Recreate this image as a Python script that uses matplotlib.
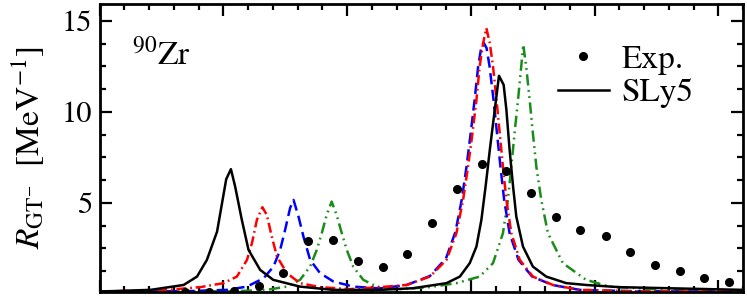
import matplotlib
matplotlib.use("Agg")
import matplotlib.pyplot as plt
from matplotlib.ticker import MultipleLocator, NullFormatter

plt.rcParams['font.family'] = ['STIXGeneral', 'DejaVu Serif']
plt.rcParams['mathtext.fontset'] = 'stix'

# ---- data (energy in MeV, strength in MeV^-1) ----
exp_x = [3.44, 4.44, 5.44, 6.43, 7.42, 8.44, 9.43, 10.43, 11.44, 12.43, 13.44,
         14.44, 15.45, 16.43, 17.43, 18.44, 19.42, 20.45, 21.44, 22.45, 23.44,
         24.43, 25.43]
exp_y = [0.13, 0.13, 0.18, 0.44, 1.17, 2.93, 2.97, 1.82, 1.47, 2.20, 3.92,
         5.77, 7.14, 6.77, 5.53, 4.25, 3.52, 3.19, 2.29, 1.59, 1.23, 0.86, 0.68]

sly5_x = [0, 2.06, 3.40, 3.94, 4.34, 4.75, 5.12, 5.31, 5.48, 5.75, 6.02, 6.49,
          7.02, 8.10, 9.44, 11.33, 12.67, 14.02, 14.56, 14.96, 15.23, 15.43,
          15.60, 15.77, 15.97, 16.14, 16.33, 16.44, 16.57, 16.71, 16.84, 17.11,
          17.51, 18.05, 18.86, 19.66, 21.0, 26.0]
sly5_y = [0.13, 0.22, 0.49, 0.95, 1.87, 3.42, 6.30, 6.85, 5.90, 4.07, 2.42, 1.32,
          0.77, 0.40, 0.22, 0.22, 0.31, 0.59, 0.95, 1.69, 2.60, 4.07,
          5.90, 7.91, 10.11, 11.98, 11.48, 10.11, 7.91, 5.90, 4.25, 2.60,
          1.50, 0.95, 0.59, 0.49, 0.37, 0.22]

red_x = [0, 2.73, 4.07, 5.01, 5.55, 5.96, 6.16, 6.36, 6.58, 6.76, 6.96, 7.17,
         7.57, 8.10, 8.91, 10.12, 11.33, 12.41, 13.35, 14.02, 14.42, 14.69,
         14.89, 15.07, 15.23, 15.36, 15.50, 15.63, 15.77, 15.90, 16.04, 16.17,
         16.30, 16.44, 16.64, 16.98, 17.51, 18.32, 19.4, 21.5, 26.0]
red_y = [0.12, 0.22, 0.37, 0.59, 0.95, 1.87, 2.79, 4.07, 4.76, 4.34, 3.15, 2.05,
         1.14, 0.59, 0.37, 0.26, 0.37, 0.49, 0.95, 1.87, 3.33, 5.16,
         6.99, 8.83, 10.66, 12.49, 13.77, 14.6, 13.77, 12.49, 10.66, 8.83,
         6.99, 5.16, 3.33, 1.87, 0.95, 0.49, 0.22, 0.15, 0.12]

blue_x = [0, 3.5, 5.15, 5.96, 6.63, 7.03, 7.30, 7.50, 7.70, 7.84, 8.04, 8.24,
          8.51, 8.91, 9.45, 10.25, 11.33, 12.41, 13.35, 14.0, 14.38, 14.64,
          14.83, 15.0, 15.16, 15.30, 15.42, 15.52, 15.64, 15.76, 15.92, 16.06,
          16.20, 16.35, 16.57, 16.93, 17.48, 18.3, 19.4, 21.5, 26.0]
blue_y = [0.12, 0.15, 0.22, 0.40, 0.86, 1.50, 2.42, 3.52, 4.71, 5.16, 4.25, 3.15,
          1.87, 1.14, 0.68, 0.40, 0.30, 0.49, 0.98, 1.95, 3.4, 5.2,
          7.0, 8.85, 10.7, 12.5, 13.5, 13.8, 13.5, 12.5, 10.66, 8.83,
          6.99, 5.16, 3.33, 1.87, 0.95, 0.49, 0.22, 0.15, 0.12]

green_x = [0, 5.5, 6.76, 7.57, 8.10, 8.51, 8.78, 8.98, 9.18, 9.38, 9.58, 9.79,
           9.99, 10.25, 10.66, 11.2, 12.0, 13.35, 14.42, 15.36, 15.9, 16.30,
           16.5, 16.64, 16.77, 16.91, 17.04, 17.12, 17.24, 17.38, 17.51, 17.65,
           17.85, 18.12, 18.72, 19.66, 20.6, 22.34, 26.0]
green_y = [0.12, 0.15, 0.22, 0.40, 0.77, 1.50, 2.42, 3.33, 4.34, 5.07, 4.34, 3.33,
           2.42, 1.50, 0.77, 0.40, 0.25, 0.37, 0.59, 0.95, 1.69, 3.33,
           5.16, 6.99, 8.83, 10.66, 12.49, 13.7, 12.49, 10.66, 8.83, 6.99,
           5.16, 3.33, 1.69, 0.77, 0.40, 0.26, 0.20]

# ---- figure ----
W, H = 747, 297
fig = plt.figure(figsize=(W / 100, H / 100), dpi=100)
ax = fig.add_axes([99.5 / W, 5.3 / H, 643.5 / W, 288.2 / H])

lw = 1.8
ax.plot(green_x, green_y, color='#1a8c1a', lw=lw, dashes=(4.5, 1.8, 0.7, 1.8, 0.7, 1.8))
ax.plot(blue_x, blue_y, color='#0000ff', lw=lw, dashes=(4.5, 2.2))
ax.plot(red_x, red_y, color='#ff0000', lw=lw, dashes=(4.0, 1.5, 0.7, 1.5))
ax.plot(sly5_x, sly5_y, color='black', lw=lw, label='SLy5')
ax.plot(exp_x, exp_y, 'o', color='black', ms=5.5, ls='none', label='Exp.')

ax.set_xlim(0, 26)
ax.set_ylim(0.12, 15.95)

ax.xaxis.set_major_locator(MultipleLocator(5))
ax.xaxis.set_minor_locator(MultipleLocator(1))
ax.yaxis.set_major_locator(MultipleLocator(5))
ax.yaxis.set_minor_locator(MultipleLocator(1.25))
ax.xaxis.set_major_formatter(NullFormatter())
ax.tick_params(which='both', direction='in', top=True, right=True,
               labelbottom=False, width=1.6)
ax.tick_params(which='major', length=8.5, pad=5, labelsize=22)
ax.tick_params(which='minor', length=4.5)
for s in ax.spines.values():
    s.set_linewidth(2.0)

ax.set_ylabel(r'$R_{\mathrm{GT}^{-}}$  [MeV$^{-1}$]', fontsize=24)
ax.yaxis.set_label_coords(-0.082, 0.5)

ax.text(0.05, 0.787, r'$^{90}$Zr', transform=ax.transAxes, fontsize=24,
        va='baseline', ha='left')

handles, labels = ax.get_legend_handles_labels()
order = [1, 0]
ax.legend([handles[i] for i in order], [labels[i] for i in order],
          loc='upper left', bbox_to_anchor=(0.712, 0.858), frameon=False,
          fontsize=24, handlelength=1.53, handletextpad=0.39,
          labelspacing=0.1, borderpad=0, borderaxespad=0, numpoints=1)

fig.savefig('out.png', dpi=100)
